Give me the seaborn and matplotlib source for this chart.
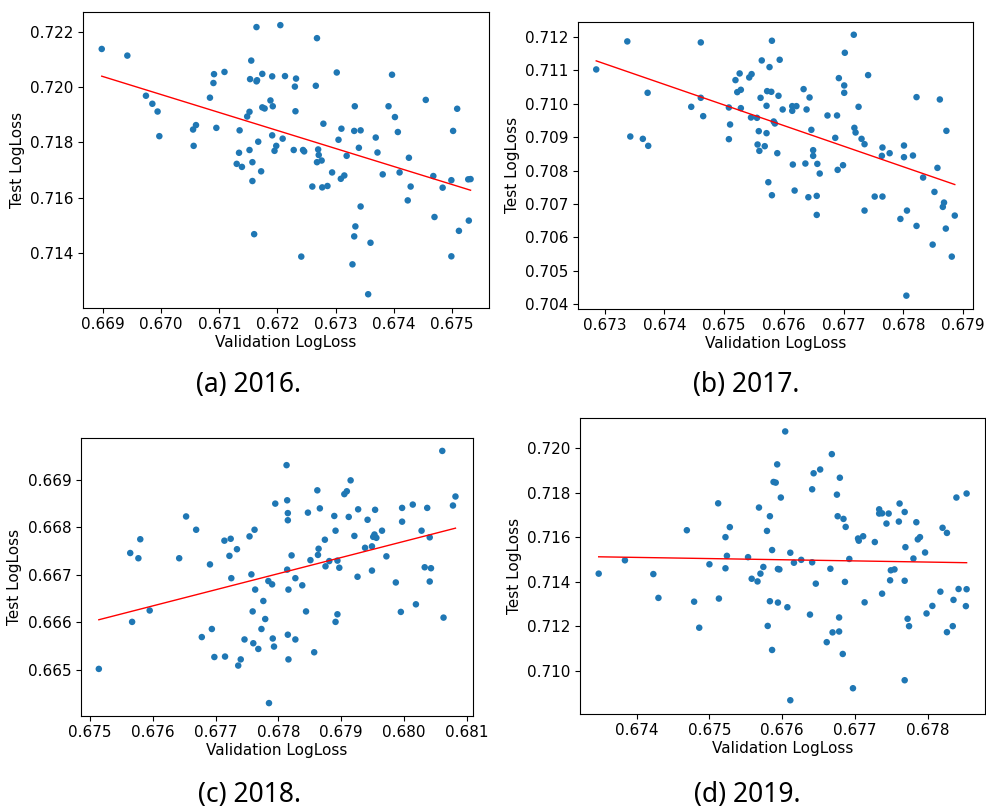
import numpy as np
import pandas as pd
import matplotlib
matplotlib.use("Agg")
import matplotlib.pyplot as plt
import seaborn as sns

# ---------------- data ----------------
a_x = [0.66898, 0.66942, 0.66974, 0.66985, 0.66994, 0.66997, 0.67055, 0.67060, 0.67056, 0.67091,
       0.67090, 0.67109, 0.67084, 0.67095, 0.67135, 0.67134, 0.67130, 0.67139, 0.67152, 0.67157,
       0.67157, 0.67167, 0.67172, 0.67160, 0.67148, 0.67152, 0.67155, 0.67153, 0.67164, 0.67165,
       0.67164, 0.67174, 0.67174, 0.67178, 0.67188, 0.67192, 0.67191, 0.67205, 0.67213, 0.67191,
       0.67209, 0.67198, 0.67195,
       0.67268, 0.67230, 0.67232, 0.67266, 0.67302, 0.67397, 0.67231, 0.67279, 0.67333, 0.67391,
       0.67402, 0.67407, 0.67455, 0.67509, 0.67502, 0.67310, 0.67305, 0.67332, 0.67343, 0.67340,
       0.67369, 0.67372, 0.67319, 0.67228, 0.67244, 0.67246, 0.67270, 0.67271, 0.67268, 0.67276,
       0.67294, 0.67309, 0.67315, 0.67260, 0.67277, 0.67286, 0.67381, 0.67410, 0.67426, 0.67429,
       0.67424, 0.67468, 0.67484, 0.67499, 0.67528, 0.67532, 0.67343, 0.67470, 0.67529, 0.67334,
       0.67332, 0.67512, 0.67360, 0.67241, 0.67499, 0.67329, 0.67356]
a_y = [0.72137, 0.72113, 0.71968, 0.71939, 0.71911, 0.71822, 0.71846, 0.71862, 0.71787, 0.72046,
       0.72014, 0.72054, 0.71961, 0.71852, 0.71843, 0.71762, 0.71722, 0.71711, 0.71772, 0.71728,
       0.71660, 0.71802, 0.71695, 0.71468, 0.71893, 0.71910, 0.72095, 0.72028, 0.72020, 0.72024,
       0.72216, 0.72047, 0.71926, 0.71922, 0.71951, 0.71930, 0.72038, 0.72223, 0.72039, 0.71825,
       0.71813, 0.71787, 0.71769,
       0.72176, 0.72001, 0.72030, 0.72004, 0.72052, 0.72044, 0.71912, 0.71867, 0.71930, 0.71930,
       0.71891, 0.71837, 0.71953, 0.71921, 0.71841, 0.71849, 0.71809, 0.71841, 0.71843, 0.71780,
       0.71817, 0.71763, 0.71751, 0.71772, 0.71772, 0.71767, 0.71774, 0.71754, 0.71728, 0.71734,
       0.71691, 0.71668, 0.71680, 0.71640, 0.71637, 0.71642, 0.71684, 0.71691, 0.71744, 0.71640,
       0.71590, 0.71678, 0.71636, 0.71663, 0.71666, 0.71667, 0.71568, 0.71530, 0.71517, 0.71496,
       0.71460, 0.71480, 0.71437, 0.71387, 0.71388, 0.71359, 0.71251]

b_x = [0.67286, 0.67338, 0.67343, 0.67364, 0.67373, 0.67372, 0.67461, 0.67445, 0.67461, 0.67465,
       0.67508, 0.67510, 0.67508, 0.67528, 0.67519, 0.67526, 0.67522, 0.67528, 0.67542, 0.67546,
       0.67545, 0.67555, 0.67558, 0.67556, 0.67559, 0.67568, 0.67571, 0.67561, 0.67571, 0.67563,
       0.67576, 0.67580, 0.67593, 0.67572, 0.67579, 0.67591, 0.67598, 0.67583, 0.67585, 0.67589,
       0.67574, 0.67580,
       0.67717, 0.67702, 0.67692, 0.67701, 0.67701, 0.67741, 0.67633, 0.67643,
       0.67614, 0.67614, 0.67621, 0.67638, 0.67673, 0.67689, 0.67725, 0.67646, 0.67718, 0.67720,
       0.67686, 0.67730, 0.67735, 0.67649, 0.67649, 0.67615, 0.67636, 0.67656, 0.67660, 0.67690,
       0.67699, 0.67765, 0.67764, 0.67777, 0.67801, 0.67801, 0.67816, 0.67822, 0.67861, 0.67872,
       0.67857, 0.67833, 0.67618, 0.67641, 0.67655, 0.67655, 0.67752, 0.67765, 0.67735, 0.67795,
       0.67806, 0.67822, 0.67852, 0.67868, 0.67866, 0.67871, 0.67849, 0.67886, 0.67881, 0.67805]
b_y = [0.71103, 0.71187, 0.70902, 0.70895, 0.70874, 0.71033, 0.71184, 0.70991, 0.71018, 0.70963,
       0.70989, 0.70938, 0.70894, 0.70987, 0.71071, 0.71091, 0.71035, 0.71042, 0.71079, 0.71089,
       0.70959, 0.70958, 0.70918, 0.70878, 0.70859, 0.70873, 0.70912, 0.71018, 0.70994, 0.71130,
       0.71110, 0.71189, 0.71132, 0.71038, 0.71036, 0.71024, 0.70983, 0.70947, 0.70941, 0.70852,
       0.70765, 0.70726,
       0.71207, 0.71153, 0.71077, 0.71055, 0.71033, 0.71086, 0.71044, 0.71019,
       0.70993, 0.70979, 0.70993, 0.70983, 0.70965, 0.70965, 0.70991, 0.70922, 0.70928, 0.70914,
       0.70898, 0.70895, 0.70879, 0.70861, 0.70844, 0.70818, 0.70821, 0.70820, 0.70791, 0.70802,
       0.70816, 0.70869, 0.70844, 0.70852, 0.70875, 0.70840, 0.70845, 0.71020, 0.71013, 0.70919,
       0.70808, 0.70779, 0.70740, 0.70720, 0.70724, 0.70667, 0.70722, 0.70722, 0.70680, 0.70655,
       0.70680, 0.70634, 0.70736, 0.70704, 0.70691, 0.70626, 0.70578, 0.70665, 0.70542, 0.70425]

c_x = [0.67514, 0.67567, 0.67595, 0.67564, 0.67577, 0.67580, 0.67642, 0.67653, 0.67669, 0.67691,
       0.67714, 0.67724, 0.67722, 0.67734, 0.67725, 0.67754, 0.67762, 0.67757, 0.67763, 0.67784,
       0.67790, 0.67776, 0.67759, 0.67779, 0.67773, 0.67678, 0.67694, 0.67746, 0.67760, 0.67768,
       0.67791, 0.67793, 0.67698, 0.67715, 0.67740, 0.67736, 0.67785, 0.67795, 0.67813, 0.67814,
       0.67815, 0.67815, 0.67814, 0.67816, 0.67815, 0.67816,
       0.67821, 0.67827, 0.67838, 0.67844, 0.67827, 0.67857, 0.67847, 0.67862, 0.67866, 0.67851,
       0.67863, 0.67864, 0.67874, 0.67875, 0.67881, 0.67894, 0.67897, 0.67891, 0.67889, 0.67905,
       0.67909, 0.67915, 0.67912, 0.67927, 0.67921, 0.67926, 0.67894, 0.67891, 0.67942, 0.67954,
       0.67938, 0.67949, 0.67951, 0.67953, 0.67956, 0.67965, 0.67972, 0.67949, 0.67987, 0.67995,
       0.68019, 0.67997, 0.67997, 0.68014, 0.68037, 0.68028, 0.68041, 0.68033, 0.68043, 0.68041,
       0.68063, 0.68061, 0.68078, 0.68082]
c_y = [0.66502, 0.66601, 0.66625, 0.66746, 0.66735, 0.66775, 0.66735, 0.66823, 0.66795, 0.66722,
       0.66772, 0.66776, 0.66740, 0.66754, 0.66693, 0.66781, 0.66795, 0.66701, 0.66669, 0.66687,
       0.66680, 0.66645, 0.66623, 0.66607, 0.66586, 0.66569, 0.66586, 0.66564, 0.66556, 0.66544,
       0.66566, 0.66549, 0.66527, 0.66528, 0.66522, 0.66509, 0.66430, 0.66850, 0.66931, 0.66857,
       0.66830, 0.66815, 0.66711, 0.66669, 0.66574, 0.66522,
       0.66741, 0.66693, 0.66678, 0.66623, 0.66564, 0.66537, 0.66831, 0.66878, 0.66840, 0.66731,
       0.66742, 0.66755, 0.66774, 0.66718, 0.66729, 0.66730, 0.66715, 0.66793, 0.66824, 0.66870,
       0.66876, 0.66899, 0.66822, 0.66838, 0.66782, 0.66696, 0.66617, 0.66601, 0.66816, 0.66837,
       0.66757, 0.66760, 0.66780, 0.66785, 0.66778, 0.66793, 0.66739, 0.66709, 0.66684, 0.66622,
       0.66638, 0.66841, 0.66812, 0.66848, 0.66841, 0.66793, 0.66779, 0.66716, 0.66714, 0.66686,
       0.66610, 0.66961, 0.66846, 0.66865]

d_x = [0.67348, 0.67384, 0.67423, 0.67430, 0.67469, 0.67479, 0.67486, 0.67500, 0.67512, 0.67522,
       0.67528, 0.67524, 0.67522, 0.67513, 0.67553, 0.67558, 0.67566, 0.67570, 0.67574, 0.67568,
       0.67583, 0.67579, 0.67586, 0.67594, 0.67596, 0.67583, 0.67594, 0.67580, 0.67586, 0.67593,
       0.67588, 0.67591, 0.67598, 0.67604,
       0.67611, 0.67607, 0.67611, 0.67616, 0.67626, 0.67641, 0.67646, 0.67638, 0.67641, 0.67643,
       0.67652, 0.67668, 0.67679, 0.67675, 0.67676, 0.67684, 0.67687, 0.67666, 0.67692, 0.67686,
       0.67678, 0.67669, 0.67678, 0.67661, 0.67683, 0.67697, 0.67704, 0.67705, 0.67711, 0.67713,
       0.67727, 0.67733, 0.67733, 0.67737, 0.67746, 0.67743, 0.67760, 0.67761, 0.67768, 0.67769,
       0.67780, 0.67784, 0.67786, 0.67789, 0.67796, 0.67820, 0.67826, 0.67839, 0.67853, 0.67749,
       0.67754, 0.67748, 0.67768, 0.67737, 0.67772, 0.67774, 0.67768, 0.67798, 0.67806, 0.67817,
       0.67826, 0.67834, 0.67835, 0.67842, 0.67852, 0.67853]
d_y = [0.71436, 0.71496, 0.71434, 0.71327, 0.71631, 0.71310, 0.71193, 0.71478, 0.71752, 0.71600,
       0.71645, 0.71516, 0.71460, 0.71324, 0.71510, 0.71413, 0.71401, 0.71436, 0.71466, 0.71733,
       0.71694, 0.71628, 0.71542, 0.71457, 0.71455, 0.71312, 0.71306, 0.71201, 0.71093, 0.71927,
       0.71848, 0.71845, 0.71778, 0.72075,
       0.71530, 0.71285, 0.70867, 0.71485, 0.71498, 0.71487, 0.71391, 0.71252, 0.71815, 0.71887,
       0.71904, 0.71973, 0.71867, 0.71791, 0.71694, 0.71682, 0.71646, 0.71458, 0.71502, 0.71399,
       0.71239, 0.71172, 0.71176, 0.71128, 0.71075, 0.70921, 0.71594, 0.71584, 0.71604, 0.71307,
       0.71578, 0.71725, 0.71706, 0.71707, 0.71706, 0.71661, 0.71670, 0.71751, 0.71713, 0.71555,
       0.71504, 0.71667, 0.71590, 0.71600, 0.71531, 0.71642, 0.71619, 0.71778, 0.71796, 0.71451,
       0.71455, 0.71406, 0.71404, 0.71346, 0.71233, 0.71200, 0.70957, 0.71257, 0.71291, 0.71355,
       0.71173, 0.71200, 0.71318, 0.71367, 0.71290, 0.71366]

captions = ["(a) 2016.", "(b) 2017.", "(c) 2018.", "(d) 2019."]
x_label = "Validation LogLoss"
y_label = "Test LogLoss"

# ---------------- figure ----------------
W, H = 987, 809
fig = plt.figure(figsize=(W / 100, H / 100), dpi=100)
plt.rcParams["font.family"] = ["DejaVu Sans"]

# axes boxes in pixels: left, top, right, bottom
boxes = [(83.3, 11.7, 489.0, 307.7),
         (578.3, 21.7, 972.7, 308.7),
         (81.0, 438.3, 473.3, 715.7),
         (580.3, 418.0, 985.0, 713.7)]
caption_pos = [(249, 385), (746, 385), (250, 795), (747, 795)]
datasets = [(a_x, a_y), (b_x, b_y), (c_x, c_y), (d_x, d_y)]

for (l, t, r, b), (xs, ys), cap, (cx, cy) in zip(boxes, datasets, captions, caption_pos):
    ax = fig.add_axes([l / W, 1 - b / H, (r - l) / W, (b - t) / H])
    df = pd.DataFrame({"val": xs, "test": ys})
    sns.scatterplot(data=df, x="val", y="test", ax=ax, color="#1f77b4",
                    s=22, linewidth=0, edgecolor="none", zorder=2)
    sns.regplot(data=df, x="val", y="test", ax=ax, scatter=False, ci=None,
                truncate=True, color="red", line_kws={"linewidth": 1.0, "zorder": 3})
    ax.margins(0.05)
    ax.ticklabel_format(useOffset=False)
    ax.set_xlabel(x_label, fontsize=11, labelpad=2)
    ax.set_ylabel(y_label, fontsize=11, labelpad=4)
    ax.tick_params(labelsize=11)
    for sp in ax.spines.values():
        sp.set_color("black")
        sp.set_linewidth(0.8)
    fig.text(cx / W, 1 - cy / H, cap, ha="center", va="center",
             fontsize=19, family=["Noto Sans", "DejaVu Sans"])

fig.savefig("out.png", dpi=100)
